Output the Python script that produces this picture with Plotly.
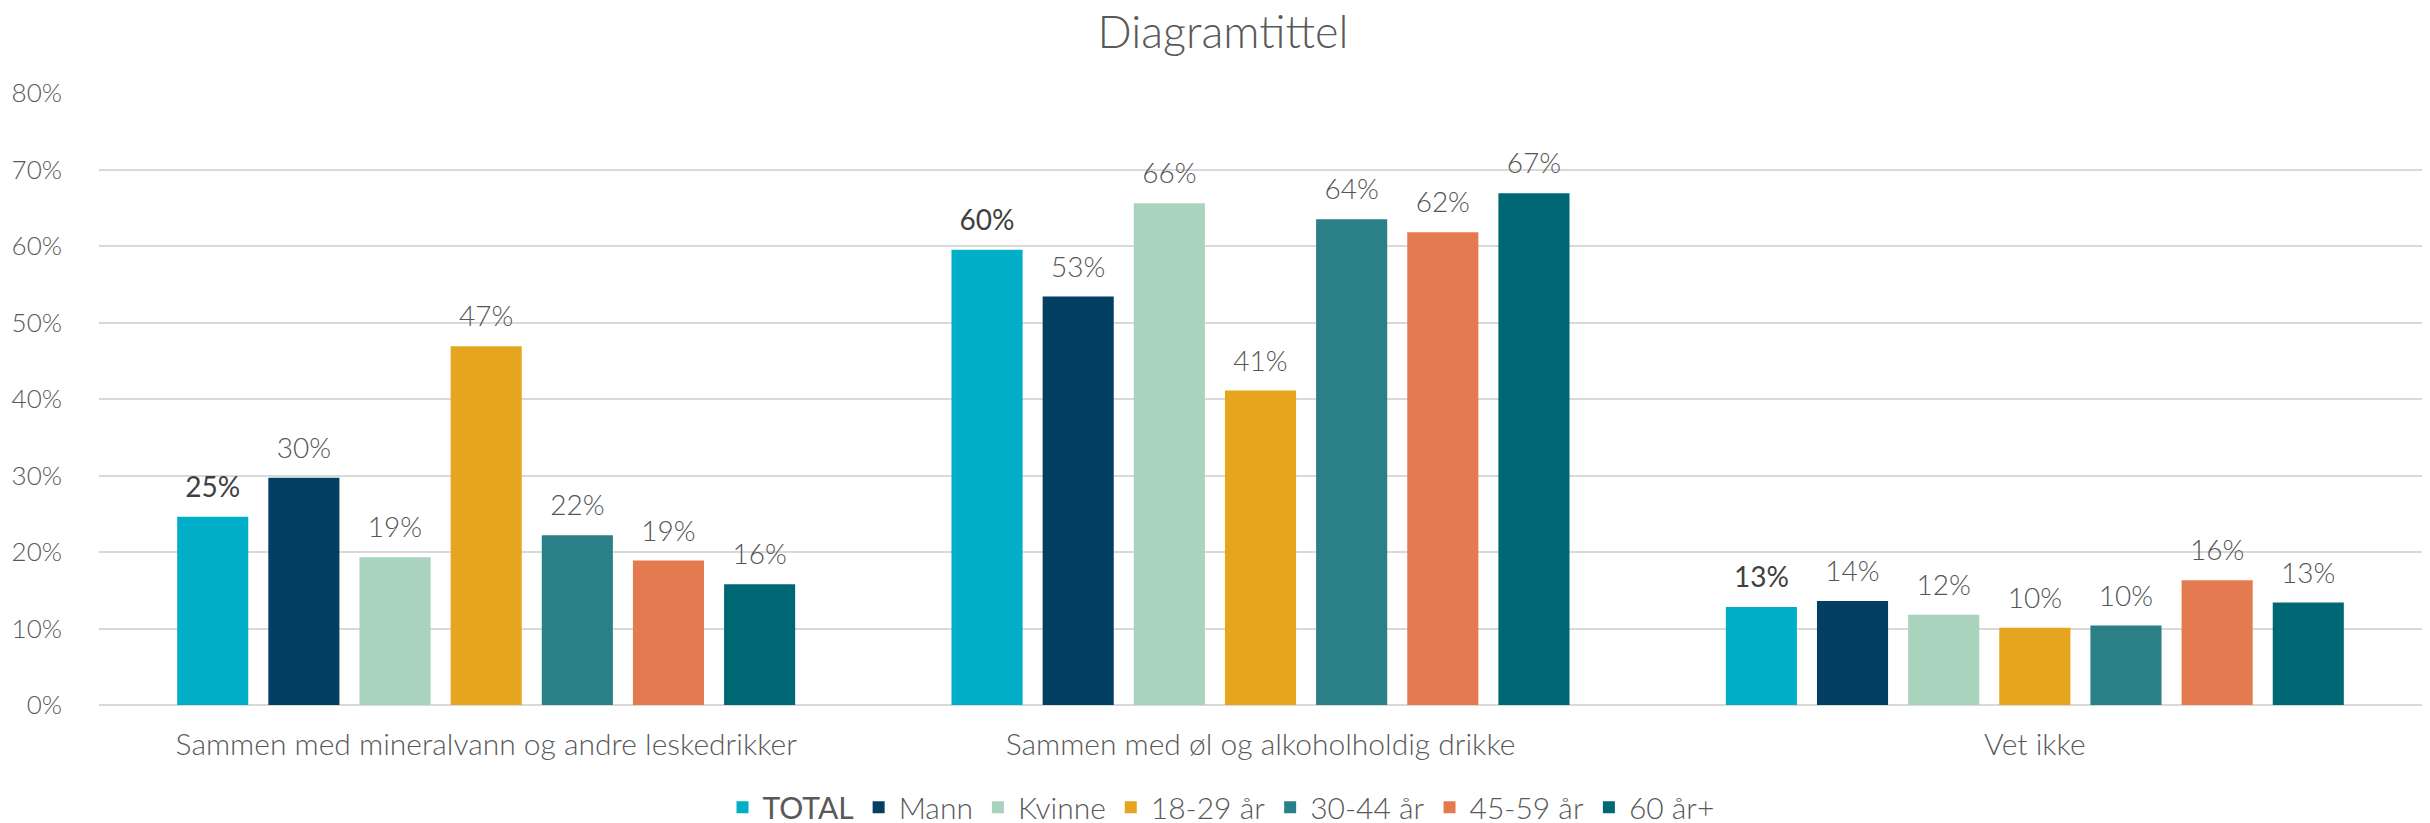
import plotly.graph_objects as go

# Data (percent)
categories = [
    "Sammen med mineralvann og andre leskedrikker",
    "Sammen med øl og alkoholholdig drikke",
    "Vet ikke",
]
series_names = ["TOTAL", "Mann", "Kvinne", "18-29 år", "30-44 år", "45-59 år", "60 år+"]
total = [24.6, 59.5, 12.8]
mann = [29.7, 53.4, 13.6]
kvinne = [19.3, 65.6, 11.8]
age_18_29 = [46.9, 41.1, 10.1]
age_30_44 = [22.2, 63.5, 10.4]
age_45_59 = [18.9, 61.8, 16.3]
age_60 = [15.8, 66.9, 13.4]
y_ticks = [0, 10, 20, 30, 40, 50, 60, 70, 80]
y_tick_labels = ["0%", "10%", "20%", "30%", "40%", "50%", "60%", "70%", "80%"]

series_values = [total, mann, kvinne, age_18_29, age_30_44, age_45_59, age_60]
COLORS = ["#00AEC7", "#033F63", "#A9D3BD", "#E5A51F", "#2A8086", "#E47B50", "#006874"]
FONT = "Lato"
LIGHT = 300
BARGAP = 0.176

fig = go.Figure()
for i, (name, vals) in enumerate(zip(series_names, series_values)):
    is_total = name == "TOTAL"
    legend_name = f"<span style='font-weight:400'>{name}</span>" if is_total else name
    fig.add_trace(go.Bar(
        x=categories, y=vals, name=legend_name,
        offsetgroup=str(i), alignmentgroup="bars",
        marker=dict(color=COLORS[i], line=dict(width=0)),
        hoverinfo="skip",
    ))

# data labels as grouped text traces so they sit a bit above the bars
for i, (name, vals) in enumerate(zip(series_names, series_values)):
    is_total = name == "TOTAL"
    fig.add_trace(go.Scatter(
        x=categories, y=vals, mode="markers+text", showlegend=False,
        offsetgroup=str(i), alignmentgroup="labels", hoverinfo="skip",
        marker=dict(size=19, opacity=0),
        text=[f"{round(v):.0f}%" for v in vals],
        textposition="top center",
        textfont=dict(family=FONT, size=28, color="#404040" if is_total else "#555555",
                      weight=400 if is_total else LIGHT),
        cliponaxis=False,
    ))

# the page body adds ~8px offset, margins are set with that in mind
fig.update_layout(
    width=2430, height=823,
    paper_bgcolor="white", plot_bgcolor="white",
    font=dict(family=FONT, color="#595959", weight=LIGHT),
    title=dict(text="Diagramtittel", x=0.5, xanchor="center", y=0.971, yanchor="middle",
               font=dict(family=FONT, size=45, color="#595959", weight=LIGHT)),
    barmode="group", bargap=BARGAP, bargroupgap=0.22,
    scattermode="group", scattergap=BARGAP,
    margin=dict(l=91, r=16, t=85, b=126, autoexpand=False),
    showlegend=True,
    legend=dict(orientation="h", x=0.483, xanchor="center", y=-0.167, yanchor="middle",
                font=dict(family=FONT, size=30, color="#595959", weight=LIGHT), itemwidth=30,
                traceorder="normal"),
    xaxis=dict(showline=False, ticks="",
               tickfont=dict(family=FONT, size=30, color="#595959", weight=LIGHT)),
    yaxis=dict(range=[0, 80], tickvals=y_ticks, ticktext=y_tick_labels, showgrid=True,
               gridcolor="#D9D9D9", gridwidth=2, zeroline=True, zerolinecolor="#D9D9D9",
               zerolinewidth=2,
               tickfont=dict(family=FONT, size=26, color="#595959", weight=LIGHT)),
)
fig.update_yaxes(ticklabelstandoff=36)
fig.update_xaxes(ticklabelstandoff=19)

fig.write_html("out.html")
